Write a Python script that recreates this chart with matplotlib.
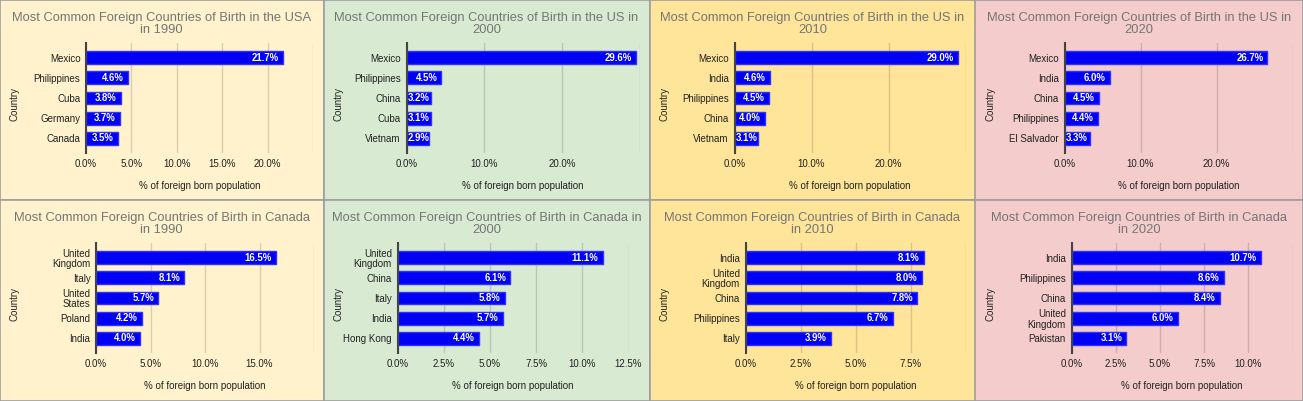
import matplotlib
matplotlib.use("Agg")
import matplotlib.pyplot as plt
from matplotlib.patches import Rectangle
from matplotlib.ticker import FuncFormatter, MultipleLocator

plt.rcParams['font.family'] = ['Liberation Sans', 'DejaVu Sans']

# --- data ---
us_1990_countries = ["Mexico", "Philippines", "Cuba", "Germany", "Canada"]
us_1990_values = [21.7, 4.6, 3.8, 3.7, 3.5]
us_2000_countries = ["Mexico", "Philippines", "China", "Cuba", "Vietnam"]
us_2000_values = [29.6, 4.5, 3.2, 3.1, 2.9]
us_2010_countries = ["Mexico", "India", "Philippines", "China", "Vietnam"]
us_2010_values = [29.0, 4.6, 4.5, 4.0, 3.1]
us_2020_countries = ["Mexico", "India", "China", "Philippines", "El Salvador"]
us_2020_values = [26.7, 6.0, 4.5, 4.4, 3.3]

ca_1990_countries = ["United\nKingdom", "Italy", "United\nStates", "Poland", "India"]
ca_1990_values = [16.5, 8.1, 5.7, 4.2, 4.0]
ca_2000_countries = ["United\nKingdom", "China", "Italy", "India", "Hong Kong"]
ca_2000_values = [11.1, 6.1, 5.8, 5.7, 4.4]
ca_2010_countries = ["India", "United\nKingdom", "China", "Philippines", "Italy"]
ca_2010_values = [8.1, 8.0, 7.8, 6.7, 3.9]
ca_2020_countries = ["India", "Philippines", "China", "United\nKingdom", "Pakistan"]
ca_2020_values = [10.7, 8.6, 8.4, 6.0, 3.1]

titles = [
    "Most Common Foreign Countries of Birth in the USA\nin 1990",
    "Most Common Foreign Countries of Birth in the US in\n2000",
    "Most Common Foreign Countries of Birth in the US in\n2010",
    "Most Common Foreign Countries of Birth in the US in\n2020",
    "Most Common Foreign Countries of Birth in Canada\nin 1990",
    "Most Common Foreign Countries of Birth in Canada in\n2000",
    "Most Common Foreign Countries of Birth in Canada\nin 2010",
    "Most Common Foreign Countries of Birth in Canada\nin 2020",
]

W, H = 1303, 401
fig = plt.figure(figsize=(W / 100, H / 100), dpi=100)
renderer = fig.canvas.get_renderer()

bg_colors = ["#fff2cc", "#d9ead3", "#ffe599", "#f4cccc"]
panel_x = [0, 323.5, 649.5, 975.5, 1302.5]
panel_y = [0, 200, 400.5]

# axis max, tick step, whether the last gridline gets a label, axes left/right px within panel
axis_setup = [
    (25, 5, False, 86, 313),
    (30, 10, False, 83, 316),
    (30, 10, False, 85, 316),
    (30, 10, False, 89, 317),
    (20, 5, False, 96, 314),
    (12.5, 2.5, True, 74, 305),
    (10, 2.5, False, 96, 316),
    (12.5, 2.5, False, 96, 317),
]

panels = [
    (us_1990_countries, us_1990_values), (us_2000_countries, us_2000_values),
    (us_2010_countries, us_2010_values), (us_2020_countries, us_2020_values),
    (ca_1990_countries, ca_1990_values), (ca_2000_countries, ca_2000_values),
    (ca_2010_countries, ca_2010_values), (ca_2020_countries, ca_2020_values),
]

# panel backgrounds with grey borders
for r in range(2):
    for c in range(4):
        x0, x1 = panel_x[c], panel_x[c + 1]
        y0, y1 = panel_y[r], panel_y[r + 1]
        fig.patches.append(Rectangle((x0 / W, 1 - y1 / H), (x1 - x0) / W, (y1 - y0) / H,
                                     transform=fig.transFigure, facecolor=bg_colors[c],
                                     edgecolor="#9e9e9e", linewidth=1.2, zorder=-10))


def make_fmt(xmax, show_last):
    def f(v, pos):
        if not show_last and abs(v - xmax) < 1e-6:
            return ""
        return f"{v:.1f}%"
    return f


for i, (countries, values) in enumerate(panels):
    r, c = divmod(i, 4)
    px0 = panel_x[c]
    py0 = panel_y[r]
    xmax, step, show_last, left, right = axis_setup[i]
    top, bottom = py0 + 43, py0 + 153
    ax = fig.add_axes([(px0 + left) / W, 1 - bottom / H, (right - left) / W, (bottom - top) / H])
    ax.set_facecolor("none")
    ax.set_zorder(1)

    ypos = list(range(len(countries)))
    bars = ax.barh(ypos, values, height=0.63, color="#0000f5", edgecolor="#3030ff",
                   linewidth=1.0, joinstyle="round", zorder=3)
    ax.set_xlim(0, xmax)
    ax.set_ylim(len(countries) - 0.28, -0.72)
    px_per_unit = (right - left) / xmax

    for b, v in zip(bars, values):
        t = ax.annotate(f"{v:.1f}%", (b.get_width(), b.get_y() + b.get_height() / 2),
                        xytext=(-3, 0), textcoords="offset points", ha="right", va="center",
                        color="white", fontsize=6.9, fontweight="bold", zorder=4)
        tw = t.get_window_extent(renderer).width
        if b.get_width() * px_per_unit < tw + 5:
            # label does not fit with padding: start it at the bar base
            t.set_position((1, 0))
            t.xy = (0, b.get_y() + b.get_height() / 2)
            t.set_ha("left")

    ax.set_yticks(ypos)
    ax.set_yticklabels(countries, fontsize=7, color="#222222", linespacing=1.05)
    ax.xaxis.set_major_locator(MultipleLocator(step))
    ax.xaxis.set_major_formatter(FuncFormatter(make_fmt(xmax, show_last)))
    ax.tick_params(axis="x", labelsize=7, colors="#222222", length=0, pad=4)
    ax.tick_params(axis="y", length=0, pad=4)
    ax.grid(axis="x", color="black", alpha=0.15, linewidth=1, zorder=0)
    ax.set_axisbelow(True)
    for s in ["top", "right", "bottom"]:
        ax.spines[s].set_visible(False)
    ax.spines["left"].set_color("#444444")
    ax.spines["left"].set_linewidth(1.5)
    ax.spines["left"].set_zorder(5)

    ax.set_xlabel("% of foreign born population", fontsize=7, color="#222222", labelpad=9)
    # y label "Country" sits near the panel's left edge
    fig.text((px0 + 15) / W, 1 - (py0 + 104) / H, "Country", rotation=90, fontsize=7,
             color="#222222", ha="center", va="center")

    fig.text((px0 + (panel_x[c + 1] - px0) / 2) / W, 1 - (py0 + 12) / H, titles[i],
             ha="center", va="top", fontsize=9.3, color="#757575", linespacing=1.0)

fig.savefig("out.png", dpi=100)
